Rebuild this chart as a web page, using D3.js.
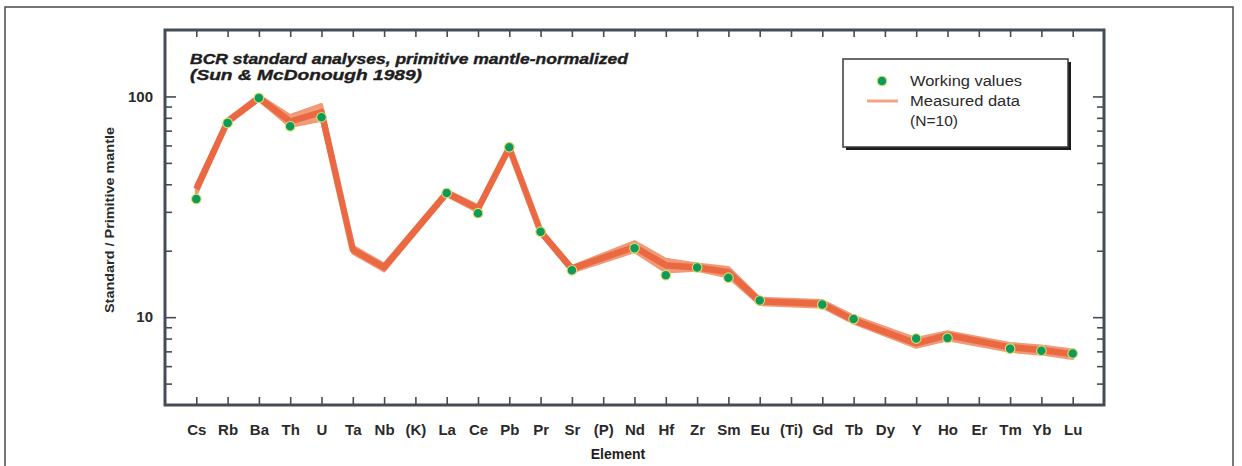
<!DOCTYPE html>
<html>
<head>
<meta charset="utf-8">
<script src="https://cdn.jsdelivr.net/npm/d3@7"></script>
<style>
  html, body { margin: 0; padding: 0; background: #fff; }
  svg { display: block; }
</style>
</head>
<body>
<svg id="chart" width="1242" height="466"></svg>
<script>
// ---------------- data ----------------
const elements = ["Cs","Rb","Ba","Th","U","Ta","Nb","(K)","La","Ce","Pb","Pr","Sr","(P)","Nd","Hf","Zr","Sm","Eu","(Ti)","Gd","Tb","Dy","Y","Ho","Er","Tm","Yb","Lu"];
const workingValues = [34.3, 75.9, 98.5, 73.2, 80.5, null, null, null, 36.5, 29.6, 58.9, 24.4, 16.3, null, 20.5, 15.5, 16.8, 15.1, 11.9, null, 11.4, 9.8, null, 8.0, 8.05, null, 7.2, 7.05, 6.85];
const measuredMean = [38, 77, 98.5, 77, 85, 20.2, 16.8, null, 36.5, 31, 58.5, 24.4, 16.6, null, 20.8, 17.2, 16.8, 16.0, 11.8, null, 11.5, 9.7, null, 7.6, 8.3, null, 7.3, 7.1, 6.8];
const measuredLow  = [36, 75, 96, 73, 78, 19.5, 16.2, null, 35.5, 30, 57, 23.8, 16.0, null, 19.8, 16.0, 16.3, 15.2, 11.4, null, 11.1, 9.4, null, 7.3, 7.9, null, 7.0, 6.8, 6.5];
const measuredHigh = [40, 79, 101, 82, 92, 21.0, 17.4, null, 37.5, 32, 60, 25.0, 17.0, null, 22.0, 18.3, 17.4, 16.8, 12.2, null, 11.9, 10.1, null, 8.0, 8.6, null, 7.6, 7.4, 7.1];
const yDomain = [4, 200];
const yMajorTicks = [10, 100];
const yMinorTicks = [5, 6, 7, 8, 9, 20, 30, 40, 50, 60, 70, 80, 90];
const titleLines = ["BCR standard analyses, primitive mantle-normalized", "(Sun & McDonough 1989)"];
const legendLabels = ["Working values", "Measured data", "(N=10)"];
const xTitle = "Element";
const yTitle = "Standard / Primitive mantle";

// ---------------- layout ----------------
const L = 165, R = 1104, T = 30, B = 405;
const axisColor = "#434d57";
const orange = "#e9643d";
const green = "#0f9a5b";
const narrow = "'Liberation Sans Narrow', 'Liberation Sans', Arial, sans-serif";

const svg = d3.select("#chart");

// outer frame
svg.append("rect").attr("x", 5).attr("y", 7).attr("width", 1228).attr("height", 480)
  .attr("fill", "none").attr("stroke", "#4a4a4a").attr("stroke-width", 1.5);

const x = d3.scalePoint().domain(elements).range([L, R]).padding(1);
const y = d3.scaleLog().domain(yDomain).range([B, T]);

// ---------------- measured data band ----------------
const idx = elements.map((d, i) => i);
const measIdx = idx.filter(i => measuredMean[i] != null);

svg.append("path")
  .datum(measIdx)
  .attr("fill", "#ef8c68")
  .attr("fill-opacity", 0.85)
  .attr("stroke", "#f09a78")
  .attr("stroke-width", 3)
  .attr("stroke-linejoin", "round")
  .attr("d", d3.area()
    .x(i => x(elements[i]))
    .y0(i => y(measuredLow[i]))
    .y1(i => y(measuredHigh[i])));

svg.append("path")
  .datum(measIdx)
  .attr("fill", "none")
  .attr("stroke", orange)
  .attr("stroke-width", 6.5)
  .attr("stroke-opacity", 0.9)
  .attr("stroke-linejoin", "round")
  .attr("d", d3.line()
    .x(i => x(elements[i]))
    .y(i => y(measuredMean[i])));

// ---------------- working values ----------------
svg.append("g").selectAll("circle")
  .data(idx.filter(i => workingValues[i] != null))
  .join("circle")
  .attr("cx", i => x(elements[i]))
  .attr("cy", i => y(workingValues[i]))
  .attr("r", 4.8)
  .attr("fill", green)
  .attr("stroke", "#d8df6a")
  .attr("stroke-width", 1.1);

// ---------------- axes ----------------
function styleAxis(g) {
  g.select(".domain").remove();
  g.selectAll(".tick line").attr("stroke", axisColor).attr("stroke-width", 1.6);
  g.selectAll(".tick text").attr("fill", "#2a2a2a");
}

// left axis
svg.append("g").attr("transform", `translate(${L},0)`)
  .call(d3.axisLeft(y).tickValues(yMinorTicks).tickSize(-7).tickFormat(""))
  .call(styleAxis);
svg.append("g").attr("transform", `translate(${L},0)`)
  .call(d3.axisLeft(y).tickValues(yMajorTicks).tickSize(-11).tickPadding(12).tickFormat(d3.format("d")))
  .call(styleAxis)
  .call(g => g.selectAll(".tick text").attr("font-family", narrow).attr("font-weight", "bold").attr("font-size", 15));

// right axis
svg.append("g").attr("transform", `translate(${R},0)`)
  .call(d3.axisRight(y).tickValues(yMinorTicks).tickSize(-7).tickFormat(""))
  .call(styleAxis);
svg.append("g").attr("transform", `translate(${R},0)`)
  .call(d3.axisRight(y).tickValues(yMajorTicks).tickSize(-11).tickFormat(""))
  .call(styleAxis);

// top axis
svg.append("g").attr("transform", `translate(0,${T})`)
  .call(d3.axisTop(x).tickSize(-7).tickFormat(""))
  .call(styleAxis);

// bottom axis
svg.append("g").attr("transform", `translate(0,${B})`)
  .call(d3.axisBottom(x).tickSize(-8).tickPadding(19))
  .call(styleAxis)
  .call(g => g.selectAll(".tick text").attr("font-family", narrow).attr("font-weight", "bold").attr("font-size", 15));

// plot frame
svg.append("rect").attr("x", L).attr("y", T).attr("width", R - L).attr("height", B - T)
  .attr("fill", "none").attr("stroke", axisColor).attr("stroke-width", 3);

// ---------------- titles ----------------
const titleWidths = [438, 232];
titleLines.forEach((t, i) => {
  svg.append("text")
    .attr("x", 190).attr("y", 64 + i * 16)
    .attr("font-family", "'Liberation Sans', Arial, sans-serif")
    .attr("font-weight", "bold").attr("font-style", "italic")
    .attr("font-size", 15.5)
    .attr("fill", "#1e1e1e")
    .attr("stroke", "#1e1e1e").attr("stroke-width", 0.4)
    .attr("textLength", titleWidths[i]).attr("lengthAdjust", "spacingAndGlyphs")
    .text(t);
});

svg.append("text")
  .attr("transform", "translate(114,220) rotate(-90)")
  .attr("text-anchor", "middle")
  .attr("font-family", narrow).attr("font-weight", "bold").attr("font-size", 12.5)
  .attr("fill", "#2a2a2a")
  .attr("textLength", 186).attr("lengthAdjust", "spacingAndGlyphs")
  .text(yTitle);

svg.append("text")
  .attr("x", 618).attr("y", 459)
  .attr("text-anchor", "middle")
  .attr("font-family", narrow).attr("font-weight", "bold").attr("font-size", 14)
  .attr("fill", "#1e1e1e")
  .text(xTitle);

// ---------------- legend ----------------
const lg = svg.append("g");
lg.append("rect").attr("x", 846).attr("y", 62).attr("width", 225).attr("height", 88).attr("fill", "#1a1a1a");
lg.append("rect").attr("x", 843).attr("y", 59).attr("width", 225).attr("height", 88)
  .attr("fill", "#fff").attr("stroke", "#3a3a3a").attr("stroke-width", 1.5);
lg.append("circle").attr("cx", 882).attr("cy", 81).attr("r", 4.8).attr("fill", green).attr("stroke", "#d8df6a").attr("stroke-width", 1.1);
lg.append("line").attr("x1", 867).attr("x2", 898).attr("y1", 101).attr("y2", 101)
  .attr("stroke", "#f4a385").attr("stroke-width", 3);
const legendWidths = [112, 110, 48];
legendLabels.forEach((t, i) => {
  lg.append("text")
    .attr("x", 910).attr("y", 86 + i * 20)
    .attr("font-family", narrow).attr("font-size", 14)
    .attr("fill", "#2a2a2a")
    .attr("textLength", legendWidths[i]).attr("lengthAdjust", "spacingAndGlyphs")
    .text(t);
});
</script>
</body>
</html>
